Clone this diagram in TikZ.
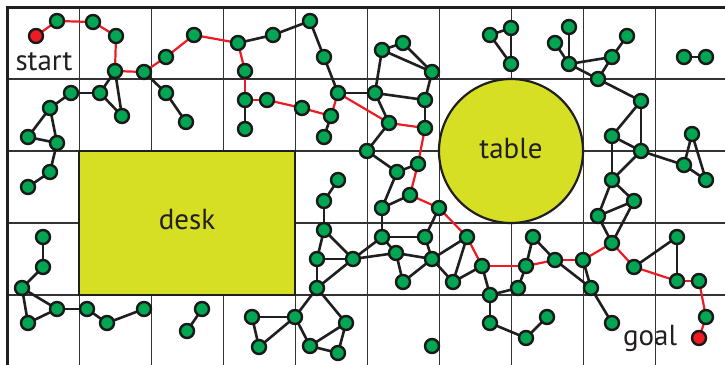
\documentclass[tikz,border=0pt]{standalone}
\usepackage{fontspec}
\setmainfont{PT Sans}
\pgfdeclarelayer{bg}
\pgfdeclarelayer{edges}
\pgfsetlayers{bg,edges,main}
\definecolor{yg}{RGB}{214,223,35}
\definecolor{ngreen}{RGB}{0,166,81}
\definecolor{nred}{RGB}{237,28,36}
\definecolor{txt}{RGB}{35,31,32}
\tikzset{
  gn/.style={circle,minimum size=14pt,inner sep=0pt,fill=ngreen,draw=black!90,line width=2.4pt},
  rn/.style={gn,fill=nred},
  bk/.style={draw=black!88,line width=2.6pt},
  rd/.style={draw=nred,line width=2.2pt},
  gridline/.style={draw=black!80,line width=1.1pt},
  lbl/.style={font=\fontsize{29}{32}\selectfont,text=txt,inner sep=0pt}
}
\begin{document}
\begin{tikzpicture}[x=1pt,y=-1pt]
\useasboundingbox (0,0) rectangle (725,364);
\begin{pgfonlayer}{bg}
  \fill[white] (0,0) rectangle (725,364);
  \begin{scope}
    \clip (0,0) rectangle (725,364);
    \foreach \i in {1,...,9} \draw[gridline] ({7+72.1*\i},7) -- ({7+72.1*\i},370);
    \foreach \j in {1,...,4} \draw[gridline] (7,{7+72*\j}) -- (730,{7+72*\j});
    \draw[draw=black!88,line width=3pt] (7,370) -- (7,7) -- (730,7);
  \end{scope}
  \node[draw=black!88,line width=2.6pt,fill=yg,minimum width=216pt,minimum height=144pt,inner sep=0pt] (desk) at (187,223) {};
  \node[lbl] at (187,220) {desk};
  \node[circle,draw=black!88,line width=2.2pt,fill=yg,minimum size=144pt,inner sep=0pt] (table) at (511,151) {};
  \node[lbl] at (511,149) {table};
\end{pgfonlayer}

\node[rn] (s) at (36,36) {};
\node[rn] (g) at (699,338) {};
\node[lbl,anchor=center] (startlbl) at (44,62) {start};
\node[lbl,anchor=center] (goallbl) at (650,338) {goal};

\foreach \n/\x/\y in {
 a1/57/21, a2/93/22, a3/116/36, a4/115/71, a5/144/72, a6/166/57, a7/194/35,
 a8/238/43, a9/273/35, a10/310/21, a11/324/57, a12/338/93, a13/245/71,
 a14/245/100, a15/267/100, a16/302/108, a17/331/116, a18/389/123,
 a19/425/128, a20/418/164, a21/410/195, a22/439/208, a23/467/237,
 a24/482/266, a25/526/266, a26/555/260, a27/583/260, a28/612/243,
 a29/634/267, a30/677/281, a31/699/281, a32/706/317,
 b1/71/93, b2/100/93, b3/50/108, b4/122/116, b5/166/93, b6/186/122,
 b7/28/137, b8/57/143, b9/50/172, b10/28/187,
 b11/43/237, b12/43/267, b13/22/288, b14/57/309, b15/28/323, b16/87/309,
 b17/107/323, b18/144/309, b19/202/309, b20/187/331, b21/245/129,
 c1/324/137, c2/375/93, c3/382/50, c4/403/43, c5/432/72, c6/425/100,
 c7/367/151, c8/397/172, c9/382/208, c10/338/180, c11/324/201,
 c12/324/230, c13/317/259, c14/353/259, c15/317/288, c16/295/317,
 c17/252/317, c18/259/347, c19/346/323, c20/310/346, c21/338/353,
 d1/382/237, d2/425/237, d3/396/253, d4/432/259, d5/403/282, d6/453/282,
 d7/490/295, d8/518/288, d9/490/323, d10/526/338, d11/547/317,
 d12/432/346, d13/533/237,
 e1/490/35, e2/511/28, e3/511/64,
 f1/569/27, f2/555/43, f3/569/64, f4/627/36, f5/612/57, f6/598/79,
 f7/641/101, f8/684/57, f9/706/57,
 h1/612/136, h2/641/151, h3/692/134, h4/684/165, h5/706/180, h6/612/180,
 h7/634/201, h8/598/216, h9/677/237,
 k1/591/288, k2/612/323}
 \node[gn] (\n) at (\x,\y) {};

\begin{pgfonlayer}{edges}
\foreach \p/\q in {a4/b2, a4/b4, b2/b4, b2/b1, b1/b3, a5/b5, b5/b6,
 b3/b7, b3/b8, b7/b8, b8/b9, b9/b10,
 b11/b12, b12/b13, b13/b14, b13/b15, b15/b14, b14/b16, b16/b17, b17/b18,
 b19/b20, a14/b21,
 a8/a9, a9/a10, a10/a11, a11/a12, a12/c2, a17/c1,
 c3/c4, c4/c5, c3/c5, c3/c2, c5/c6, c2/c6, c2/a18, c6/a19,
 a18/c7, c7/c8, c8/a20, c8/c9, a21/c9, c9/d1, a22/d2,
 c10/c11, c11/c12, c12/c13, c12/c14, c13/c14, c13/c15, c14/c15, c15/c16,
 c15/c19, c16/c17, c17/c18, c18/c16, c16/c20, c20/c19, c20/c21, c19/c21,
 c14/d1, c14/d3, d1/d2, d1/d3, d3/d4, d2/d4, d3/d5, d4/d5, d4/d6, d4/a23,
 a23/d6, d6/a24, a24/d7, d7/d8, d8/a25, d7/d9, d9/d10, d10/d11,
 a25/d13, d13/a26, a26/k1, a27/k1, k1/k2, a29/h9, h9/a30,
 e1/e2, e2/e3, e1/e3,
 f1/f3, f2/f3, f3/f5, f3/f6, f5/f4, f5/f6, f6/f7, f7/h1, f7/h2, h1/h2,
 h1/h6, h2/h6, h2/h4, h4/h3, h3/h5, h4/h5, h6/h7, h6/h8, h7/h8, h8/a28,
 h7/a28, f8/f9}
 \draw[bk] (\p.center) -- (\q.center);
\foreach \p/\q in {s/a1, a1/a2, a2/a3, a3/a4, a4/a5, a5/a6, a6/a7, a7/a8,
 a8/a13, a13/a14, a14/a15, a15/a16, a16/a17, a17/a12, a12/a18, a18/a19,
 a19/a20, a20/a21, a21/a22, a22/a23, a23/a24, a24/a25, a25/a26, a26/a27,
 a27/a28, a28/a29, a29/a30, a30/a31, a31/a32, a32/g}
 \draw[rd] (\p.center) -- (\q.center);
\end{pgfonlayer}
\end{tikzpicture}
\end{document}
